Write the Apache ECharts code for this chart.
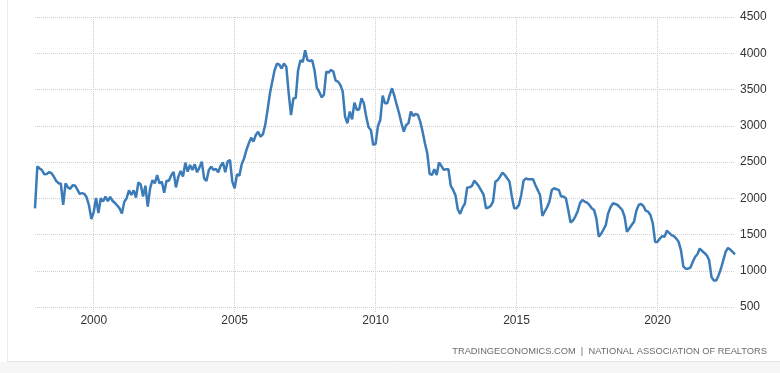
<!DOCTYPE html>
<html><head><meta charset="utf-8">
<script src="https://cdn.jsdelivr.net/npm/echarts@6/dist/echarts.min.js"></script>
<style>html,body{margin:0;padding:0;background:#fff}#c{width:780px;height:373px}</style>
</head><body><div id="c"></div>
<script>
// First month of the series (year, month)
const firstMonth = [1997, 12];
// US housing inventory (thousands), monthly
const inventory = [
  1860,
  2440, 2410, 2385, 2330, 2335, 2360, 2345, 2300, 2240, 2208, 2200, 1910,
  2205, 2150, 2130, 2180, 2177, 2123, 2060, 2070, 2060, 2010, 1900, 1714,
  1810, 2005, 1795, 2000, 1955, 2023, 1960, 2020, 1965, 1935, 1900, 1860,
  1790, 1950, 2000, 2110, 2045, 2110, 2010, 2218, 2190, 2025, 2173, 1886,
  2136, 2250, 2205, 2318, 2205, 2227, 2077, 2241, 2241, 2318, 2364, 2150,
  2295, 2376, 2298, 2491, 2367, 2459, 2390, 2468, 2358, 2422, 2505, 2275,
  2239, 2390, 2436, 2390, 2404, 2358, 2445, 2495, 2358, 2505, 2528, 2229,
  2138, 2330, 2312, 2468, 2550, 2665, 2757, 2835, 2780, 2872, 2917, 2849,
  2881, 3009, 3216, 3445, 3606, 3766, 3858, 3844, 3789, 3858, 3812, 3445,
  3147, 3376, 3385, 3766, 3904, 3881, 4041, 3904, 3890, 3904, 3766, 3523,
  3468, 3393, 3425, 3747, 3733, 3770, 3747, 3622, 3609, 3563, 3471, 3126,
  3034, 3195, 3089, 3319, 3218, 3227, 3379, 3310, 3126, 2979, 2942, 2735,
  2749, 2997, 3080, 3416, 3310, 3310, 3425, 3517, 3411, 3287, 3172, 3034,
  2919, 3011, 3034, 3195, 3135, 3163, 3149, 3057, 2919, 2758, 2620, 2335,
  2322, 2400, 2322, 2492, 2446, 2391, 2400, 2400, 2170, 2115, 2040, 1845,
  1784, 1870, 1925, 2150, 2151, 2170, 2243, 2206, 2161, 2105, 2046, 1862,
  1872, 1894, 1954, 2229, 2252, 2298, 2353, 2321, 2275, 2229, 2023, 1862,
  1862, 1908, 2046, 2243, 2275, 2261, 2261, 2261, 2183, 2115, 2046, 1757,
  1817, 1876, 1954, 2115, 2138, 2124, 2115, 2023, 2023, 2000, 1839, 1665,
  1692, 1748, 1817, 1931, 1977, 1954, 1940, 1908, 1862, 1839, 1720, 1470,
  1510, 1569, 1630, 1792, 1875, 1931, 1921, 1907, 1875, 1838, 1745, 1537,
  1583, 1630, 1676, 1829, 1907, 1921, 1894, 1829, 1815, 1769, 1653, 1398,
  1398, 1444, 1477, 1468, 1551, 1523, 1491, 1477, 1444, 1398, 1282, 1060,
  1028, 1028, 1042, 1120, 1190, 1227, 1306, 1273, 1245, 1213, 1144, 912,
  866, 866, 935, 1028, 1144, 1259, 1315, 1292, 1259, 1227
];
const yearTicks = [2000, 2005, 2010, 2015, 2020];
const yMin = 500, yMax = 4500, yStep = 500;
const sourceText = 'TRADINGECONOMICS.COM  |  NATIONAL ASSOCIATION OF REALTORS';

const months = inventory.map((_, i) => {
  const t = firstMonth[0] * 12 + (firstMonth[1] - 1) + i;
  const y = Math.floor(t / 12), m = t % 12 + 1;
  return y + '-' + String(m).padStart(2, '0');
});
const isTick = (idx, val) => {
  const v = typeof val === 'string' ? val : months[idx];
  const parts = v.split('-');
  return parts[1] === '01' && yearTicks.indexOf(+parts[0]) >= 0;
};

const chart = echarts.init(document.getElementById('c'), null, {renderer: 'canvas'});
const gridColor = '#cfcfcf';
chart.setOption({
  animation: false,
  backgroundColor: '#fff',
  grid: {left: 35, right: 45, top: 17, bottom: 66},
  xAxis: {
    type: 'category',
    data: months,
    boundaryGap: false,
    axisLine: {show: false},
    axisTick: {show: true, interval: isTick, length: 5, lineStyle: {color: gridColor, type: 'dotted'}},
    axisLabel: {
      interval: isTick,
      formatter: v => v.slice(0, 4),
      color: '#333', fontSize: 12, fontFamily: 'Liberation Sans, Arial', margin: 8
    },
    splitLine: {show: true, interval: isTick, lineStyle: {color: gridColor, type: 'dotted', width: 1}}
  },
  yAxis: {
    type: 'value',
    position: 'right',
    min: yMin, max: yMax, interval: yStep,
    axisLine: {show: false},
    axisTick: {show: false},
    axisLabel: {color: '#333', fontSize: 12, fontFamily: 'Liberation Sans, Arial', margin: 5,
      formatter: v => String(v)},
    splitLine: {show: true, lineStyle: {color: gridColor, type: 'dotted', width: 1}}
  },
  series: [{
    type: 'line',
    data: inventory,
    showSymbol: false,
    smooth: false,
    lineStyle: {color: '#3b7bb8', width: 2.5},
    itemStyle: {color: '#3b7bb8'}
  }],
  graphic: [
    {type: 'rect', silent: true, z: -10, shape: {x: 0, y: 362, width: 780, height: 11}, style: {fill: '#f6f6f6'}},
    {type: 'line', silent: true, shape: {x1: 7.5, y1: 0, x2: 7.5, y2: 362}, style: {stroke: '#ececec', lineWidth: 1}},
    {type: 'line', silent: true, shape: {x1: 7.5, y1: 361.5, x2: 780, y2: 361.5}, style: {stroke: '#e6e6e6', lineWidth: 1}},
    {type: 'text', silent: true, right: 13, top: 347,
      style: {text: sourceText, fill: '#6b6b6b', fontSize: 9.3, fontFamily: 'Liberation Sans, Arial'}}
  ]
});
</script>
</body></html>
